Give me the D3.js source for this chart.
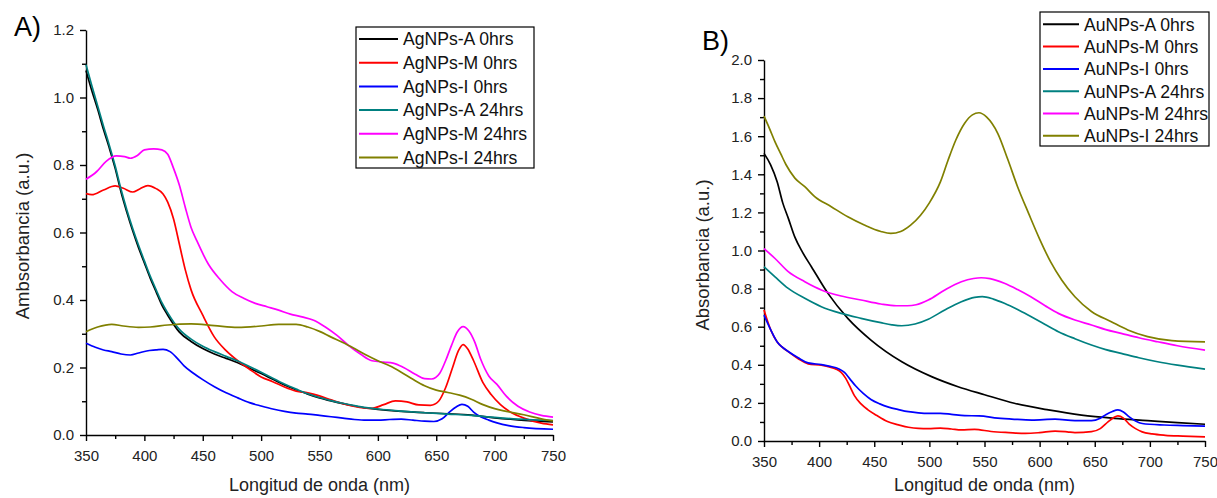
<!DOCTYPE html>
<html>
<head>
<meta charset="utf-8">
<style>
  body { margin: 0; background: #fff; }
  svg { display: block; font-family: "Liberation Sans", Arial, sans-serif; }
  .axis path, .axis line { stroke: #000; stroke-width: 1.4px; }
  .axis text { font-size: 15px; fill: #222; font-family: "Liberation Sans", Arial, sans-serif; }
  .series { fill: none; stroke-width: 1.7px; stroke-linejoin: round; }
</style>
</head>
<body>
<svg id="chart" width="1217" height="498"></svg>
<script src="https://d3js.org/d3.v7.min.js"></script>
<script>
// ---- panel A : silver nanoparticles ----
const agA0 = [[350,1.08],[355,1.02],[360,0.965],[365,0.905],[370,0.85],[375,0.79],[380,0.72],[385,0.66],[390,0.605],[395,0.555],[400,0.51],[405,0.465],[410,0.425],[415,0.385],[420,0.355],[430,0.305],[440,0.277],[450,0.256],[460,0.24],[470,0.227],[480,0.214],[490,0.198],[500,0.182],[510,0.165],[520,0.148],[530,0.134],[540,0.121],[550,0.11],[560,0.101],[570,0.093],[580,0.086],[590,0.08],[600,0.076],[620,0.07],[640,0.066],[660,0.063],[680,0.059],[700,0.051],[720,0.045],[750,0.039]];
const agM0 = [[350,0.715],[355,0.712],[365,0.726],[375,0.738],[382,0.731],[390,0.72],[396,0.729],[403,0.739],[410,0.73],[416,0.714],[420,0.69],[425,0.64],[430,0.565],[435,0.49],[440,0.43],[450,0.355],[460,0.29],[470,0.25],[480,0.22],[490,0.195],[500,0.172],[510,0.158],[520,0.142],[530,0.13],[540,0.125],[550,0.116],[560,0.104],[570,0.093],[580,0.085],[595,0.079],[605,0.09],[615,0.101],[625,0.098],[635,0.089],[645,0.088],[652,0.1],[658,0.14],[664,0.2],[669,0.25],[673,0.268],[677,0.255],[682,0.22],[690,0.155],[697,0.12],[705,0.09],[715,0.065],[725,0.05],[740,0.035],[750,0.03]];
const agI0 = [[350,0.272],[358,0.26],[365,0.252],[372,0.247],[380,0.24],[388,0.237],[395,0.243],[402,0.249],[410,0.252],[416,0.254],[422,0.247],[428,0.228],[434,0.205],[442,0.183],[450,0.164],[460,0.143],[470,0.125],[480,0.11],[490,0.096],[500,0.086],[510,0.077],[520,0.07],[530,0.065],[540,0.062],[550,0.058],[560,0.054],[570,0.05],[580,0.046],[590,0.044],[600,0.044],[610,0.046],[620,0.047],[630,0.044],[640,0.041],[648,0.04],[655,0.048],[662,0.07],[667,0.083],[672,0.091],[677,0.085],[682,0.068],[688,0.054],[695,0.044],[702,0.036],[712,0.028],[725,0.022],[750,0.017]];
const agA24 = [[350,1.097],[355,1.035],[360,0.975],[365,0.915],[370,0.858],[375,0.797],[380,0.728],[385,0.667],[390,0.612],[395,0.562],[400,0.516],[405,0.471],[410,0.431],[415,0.392],[420,0.362],[430,0.313],[440,0.284],[450,0.263],[460,0.247],[470,0.233],[480,0.219],[490,0.203],[500,0.186],[510,0.168],[520,0.151],[530,0.136],[540,0.122],[550,0.111],[560,0.102],[570,0.094],[580,0.087],[590,0.081],[600,0.077],[620,0.071],[640,0.066],[660,0.062],[680,0.058],[700,0.052],[720,0.047],[750,0.043]];
const agM24 = [[350,0.758],[359,0.78],[367,0.81],[376,0.827],[383,0.825],[388,0.82],[394,0.828],[400,0.845],[408,0.848],[415,0.845],[420,0.832],[425,0.79],[430,0.74],[435,0.675],[440,0.615],[445,0.575],[455,0.505],[465,0.46],[475,0.425],[485,0.405],[495,0.39],[505,0.38],[515,0.37],[525,0.358],[535,0.35],[545,0.34],[555,0.32],[565,0.295],[575,0.265],[585,0.24],[595,0.22],[605,0.216],[613,0.213],[622,0.2],[632,0.18],[640,0.167],[646,0.166],[653,0.183],[658,0.22],[663,0.265],[668,0.305],[673,0.321],[678,0.308],[683,0.275],[688,0.225],[695,0.175],[702,0.15],[710,0.115],[720,0.085],[730,0.068],[740,0.058],[750,0.053]];
const agI24 = [[350,0.306],[360,0.32],[372,0.328],[382,0.323],[395,0.319],[405,0.32],[420,0.326],[440,0.329],[460,0.324],[480,0.319],[500,0.323],[515,0.328],[530,0.328],[540,0.32],[550,0.307],[560,0.29],[570,0.274],[580,0.256],[590,0.237],[600,0.22],[610,0.205],[620,0.186],[630,0.165],[640,0.146],[650,0.133],[660,0.126],[670,0.118],[680,0.106],[690,0.09],[700,0.078],[710,0.07],[725,0.06],[740,0.048],[750,0.042]];

// ---- panel B : gold nanoparticles ----
const auA0 = [[350,1.51],[356,1.45],[362,1.36],[367,1.25],[372,1.17],[378,1.07],[385,0.99],[393,0.915],[408,0.775],[426,0.644],[447,0.53],[475,0.416],[502,0.338],[526,0.285],[550,0.243],[577,0.198],[608,0.163],[638,0.136],[668,0.119],[698,0.107],[725,0.096],[750,0.088]];
const auM0 = [[350,0.688],[356,0.585],[362,0.52],[366,0.495],[372,0.469],[381,0.432],[390,0.405],[402,0.398],[410,0.388],[415,0.378],[420,0.36],[424,0.33],[428,0.285],[432,0.238],[438,0.195],[444,0.165],[452,0.135],[462,0.102],[472,0.085],[481,0.072],[490,0.066],[499,0.065],[510,0.068],[520,0.063],[529,0.058],[541,0.061],[556,0.05],[572,0.044],[587,0.04],[600,0.044],[614,0.052],[625,0.048],[632,0.044],[647,0.049],[655,0.065],[662,0.1],[667,0.122],[671,0.132],[676,0.12],[681,0.09],[687,0.065],[693,0.048],[702,0.037],[714,0.03],[730,0.026],[750,0.022]];
const auI0 = [[350,0.661],[356,0.585],[362,0.52],[366,0.495],[372,0.47],[381,0.437],[390,0.41],[402,0.401],[410,0.392],[418,0.378],[423,0.36],[428,0.325],[433,0.29],[440,0.25],[447,0.218],[455,0.195],[463,0.178],[472,0.165],[481,0.154],[490,0.148],[499,0.145],[510,0.145],[520,0.14],[532,0.133],[545,0.132],[562,0.12],[577,0.114],[593,0.11],[614,0.115],[632,0.107],[647,0.107],[655,0.12],[660,0.138],[666,0.155],[671,0.163],[676,0.152],[681,0.128],[687,0.105],[693,0.092],[713,0.084],[730,0.081],[750,0.078]];
const auA24 = [[350,0.915],[360,0.862],[372,0.801],[387,0.749],[402,0.705],[420,0.67],[438,0.644],[456,0.621],[466,0.61],[475,0.605],[487,0.614],[499,0.639],[514,0.688],[529,0.731],[541,0.754],[548,0.758],[558,0.745],[568,0.723],[580,0.69],[592,0.653],[605,0.612],[617,0.574],[632,0.537],[647,0.504],[660,0.48],[674,0.46],[690,0.437],[707,0.416],[725,0.398],[750,0.377]];
const auM24 = [[350,1.01],[360,0.958],[372,0.889],[387,0.836],[402,0.793],[420,0.761],[438,0.74],[456,0.719],[470,0.71],[480,0.71],[488,0.715],[499,0.74],[514,0.793],[529,0.836],[540,0.853],[547,0.857],[555,0.852],[568,0.828],[580,0.795],[592,0.757],[605,0.71],[617,0.67],[632,0.635],[647,0.609],[660,0.585],[674,0.565],[690,0.542],[707,0.521],[725,0.5],[750,0.477]];
const auI24 = [[350,1.705],[355,1.64],[360,1.57],[365,1.51],[370,1.45],[378,1.38],[387,1.335],[396,1.283],[411,1.23],[426,1.177],[441,1.134],[456,1.1],[465,1.09],[474,1.1],[483,1.133],[492,1.185],[500,1.25],[510,1.36],[517,1.475],[524,1.58],[532,1.668],[539,1.712],[545,1.723],[552,1.7],[562,1.615],[571,1.48],[580,1.335],[590,1.195],[600,1.06],[610,0.94],[620,0.845],[632,0.757],[647,0.68],[665,0.626],[680,0.583],[698,0.548],[720,0.527],[750,0.52]];

const seriesColors = ["#000000", "#ff0000", "#0000ff", "#008080", "#ff00ff", "#808000"];
const labelsA = ["AgNPs-A 0hrs", "AgNPs-M 0hrs", "AgNPs-I 0hrs", "AgNPs-A 24hrs", "AgNPs-M 24hrs", "AgNPs-I 24hrs"];
const labelsB = ["AuNPs-A 0hrs", "AuNPs-M 0hrs", "AuNPs-I 0hrs", "AuNPs-A 24hrs", "AuNPs-M 24hrs", "AuNPs-I 24hrs"];
const xMajorTicks = d3.range(350, 751, 50);
const xMinorTicks = d3.range(375, 751, 50);

const svg = d3.select("#chart");

function drawPanel(p) {
  const x = d3.scaleLinear().domain([350, 750]).range(p.xRange);
  const y = d3.scaleLinear().domain([0, p.yMax]).range(p.yRange);
  const g = svg.append("g");

  // minor ticks first, then the major axis over them
  g.append("g").attr("class", "axis")
      .attr("transform", "translate(0," + p.yRange[0] + ")")
      .call(d3.axisBottom(x).tickValues(xMinorTicks).tickSize(4).tickSizeOuter(0).tickFormat(""))
      .select(".domain").remove();
  g.append("g").attr("class", "axis")
      .attr("transform", "translate(" + p.xRange[0] + ",0)")
      .call(d3.axisLeft(y).tickValues(p.yMinor).tickSize(4).tickSizeOuter(0).tickFormat(""))
      .select(".domain").remove();

  g.append("g").attr("class", "axis")
      .attr("transform", "translate(0," + p.yRange[0] + ")")
      .call(d3.axisBottom(x).tickValues(xMajorTicks).tickSize(6).tickSizeOuter(0).tickPadding(9));
  g.append("g").attr("class", "axis")
      .attr("transform", "translate(" + p.xRange[0] + ",0)")
      .call(d3.axisLeft(y).tickValues(p.yMajor).tickSize(6).tickSizeOuter(0).tickPadding(6)
        .tickFormat(d3.format(".1f")));

  const line = d3.line()
      .x(d => x(d[0]))
      .y(d => y(d[1]))
      .curve(d3.curveMonotoneX);

  g.selectAll("path.series")
    .data(p.series)
    .enter().append("path")
      .attr("class", "series")
      .attr("d", line)
      .style("stroke", (d, i) => seriesColors[i]);

  // axis titles
  g.append("text")
      .attr("x", (p.xRange[0] + p.xRange[1]) / 2)
      .attr("y", 491)
      .attr("text-anchor", "middle")
      .style("font-size", "18px").style("fill", "#222")
      .text("Longitud de onda (nm)");
  g.append("text")
      .attr("transform", "translate(" + p.yTitle[0] + "," + p.yTitle[1] + ") rotate(-90)")
      .attr("text-anchor", "middle")
      .style("font-size", "18.5px").style("fill", "#222")
      .text(p.yLabel);

  // panel letter
  g.append("text")
      .attr("x", p.letter[0]).attr("y", p.letter[1])
      .style("font-size", "27px").style("fill", "#000")
      .text(p.letterText);

  // legend
  const lg = g.append("g").attr("transform", "translate(" + p.legend.x + "," + p.legend.y + ")");
  lg.append("rect")
      .attr("width", p.legend.w).attr("height", p.legend.h)
      .style("fill", "#fff").style("stroke", "#000").style("stroke-width", 1.2);
  const rows = lg.selectAll("g.row")
    .data(p.labels)
    .enter().append("g")
      .attr("class", "row")
      .attr("transform", (d, i) => "translate(0," + (p.legend.first + i * p.legend.step) + ")");
  rows.append("line")
      .attr("x1", 3).attr("x2", p.legend.lineEnd)
      .style("stroke", (d, i) => seriesColors[i])
      .style("stroke-width", 2);
  rows.append("text")
      .attr("x", p.legend.textX)
      .attr("dy", "0.36em")
      .style("font-size", "17.6px").style("fill", "#111")
      .text(d => d);
}

drawPanel({
  xRange: [86, 553], yRange: [435, 30], yMax: 1.2,
  yMajor: d3.range(0, 1.21, 0.2), yMinor: [0.1, 0.3, 0.5, 0.7, 0.9, 1.1],
  series: [agA0, agM0, agI0, agA24, agM24, agI24],
  labels: labelsA,
  yLabel: "Ambsorbancia (a.u.)", yTitle: [29, 236],
  letterText: "A)", letter: [14, 36],
  legend: { x: 356, y: 27, w: 178, h: 141, first: 12, step: 23.7, lineEnd: 42, textX: 47 }
});

drawPanel({
  xRange: [764, 1205], yRange: [441, 60], yMax: 2.0,
  yMajor: d3.range(0, 2.01, 0.2), yMinor: d3.range(0.1, 2.0, 0.2),
  series: [auA0, auM0, auI0, auA24, auM24, auI24],
  labels: labelsB,
  yLabel: "Absorbancia (a.u.)", yTitle: [709, 255],
  letterText: "B)", letter: [702, 50],
  legend: { x: 1040, y: 12, w: 169, h: 134, first: 12.3, step: 22.3, lineEnd: 39, textX: 44 }
});
</script>
</body>
</html>
